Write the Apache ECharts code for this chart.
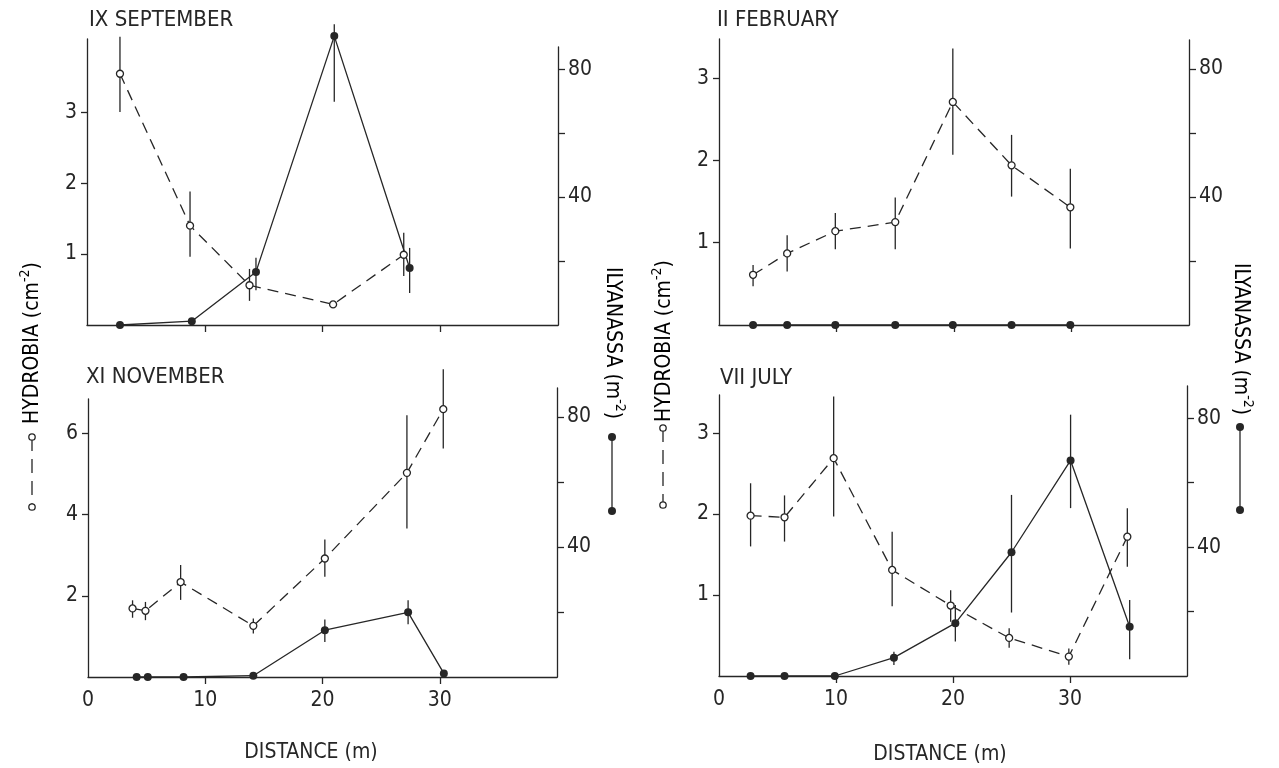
<!DOCTYPE html>
<html>
<head>
<meta charset="utf-8">
<title>Hydrobia / Ilyanassa by distance</title>
<script src="https://cdn.jsdelivr.net/npm/echarts@6/dist/echarts.min.js"></script>
<style>
  html, body { margin: 0; padding: 0; background: #fff; }
  #charts { width: 1279px; height: 768px; }
</style>
</head>
<body>
<div id="charts"></div>
<script>
// distance (m); hydrobia per cm2 on the left axis, ilyanassa per m2 on the right axis
var sepDistH   = [2.8, 8.75, 13.8, 20.9, 26.9];
var sepHydro   = [3.54, 1.40, 0.56, 0.29, 0.99];
var sepHydroLo = [3.0, 0.96, 0.34, null, 0.69];
var sepHydroHi = [4.06, 1.88, 0.79, null, 1.30];
var sepDistI   = [2.8, 8.9, 14.35, 21.0, 27.4];
var sepIly     = [0, 1.2, 16.6, 90.3, 17.8];
var sepIlyLo   = [null, null, 10.9, 69.8, 10.0];
var sepIlyHi   = [null, null, 21.0, 94, 24.1];

var febDistH   = [2.9, 5.8, 9.9, 15.0, 19.9, 24.9, 29.9];
var febHydro   = [0.61, 0.87, 1.14, 1.25, 2.71, 1.94, 1.43];
var febHydroLo = [0.47, 0.65, 0.92, 0.92, 2.07, 1.56, 0.93];
var febHydroHi = [0.73, 1.09, 1.36, 1.55, 3.36, 2.31, 1.90];
var febDistI   = [2.9, 5.8, 9.9, 15.0, 19.9, 24.9, 29.9];
var febIly     = [0, 0, 0, 0, 0, 0, 0];
var febIlyLo   = [null, null, null, null, null, null, null];
var febIlyHi   = [null, null, null, null, null, null, null];

var novDistH   = [3.8, 4.9, 7.9, 14.1, 20.2, 27.2, 30.3];
var novHydro   = [1.69, 1.63, 2.34, 1.26, 2.92, 5.03, 6.60];
var novHydroLo = [1.46, 1.40, 1.90, 1.07, 2.47, 3.66, 5.63];
var novHydroHi = [1.89, 1.85, 2.76, 1.44, 3.39, 6.45, 7.58];
var novDistI   = [4.15, 5.1, 8.15, 14.1, 20.2, 27.3, 30.35];
var novIly     = [0, 0, 0, 0.4, 14.4, 19.9, 1.1];
var novIlyLo   = [null, null, null, null, 10.8, 16.2, null];
var novIlyHi   = [null, null, null, null, 17.7, 23.6, null];

var julDistH   = [2.7, 5.6, 9.8, 14.8, 19.8, 24.8, 29.9, 34.9];
var julHydro   = [1.98, 1.96, 2.69, 1.31, 0.87, 0.47, 0.24, 1.72];
var julHydroLo = [1.60, 1.66, 1.97, 0.86, 0.67, 0.35, 0.14, 1.35];
var julHydroHi = [2.38, 2.23, 3.45, 1.78, 1.06, 0.59, 0.34, 2.07];
var julDistI   = [2.7, 5.6, 9.9, 14.95, 20.2, 25.0, 30.05, 35.1];
var julIly     = [0, 0, 0, 5.7, 16.4, 38.4, 66.9, 15.3];
var julIlyLo   = [null, null, null, 3.4, 10.7, 19.7, 52.1, 5.2];
var julIlyHi   = [null, null, null, 7.5, 22.0, 56.2, 81.1, 23.6];

var xLabels = [0, 10, 20, 30];
var xTicks = [10, 20, 30];
var ilyTicks = [20, 40, 60, 80];
var ilyLabels = [40, 80];

var font = '"DejaVu Sans Condensed", "Liberation Sans Narrow", sans-serif';
var ink = '#262626';

var panels = [
  { title: 'IX SEPTEMBER', left: 87, right: 721, bottom: 443, topL: 39, topR: 47, maxL: 4.03, maxR: 86.9,
    hLab: [1, 2, 3], xLab: false,
    dH: sepDistH, h: sepHydro, hLo: sepHydroLo, hHi: sepHydroHi, dI: sepDistI, i: sepIly, iLo: sepIlyLo, iHi: sepIlyHi,
    tx: 89, ty: 20 },
  { title: 'II FEBRUARY', left: 719, right: 90, bottom: 443, topL: 39, topR: 40, maxL: 3.475, maxR: 89,
    hLab: [1, 2, 3], xLab: false,
    dH: febDistH, h: febHydro, hLo: febHydroLo, hHi: febHydroHi, dI: febDistI, i: febIly, iLo: febIlyLo, iHi: febIlyHi,
    tx: 717, ty: 20 },
  { title: 'XI NOVEMBER', left: 88, right: 722, bottom: 91, topL: 399, topR: 388, maxL: 6.85, maxR: 88.9,
    hLab: [2, 4, 6], xLab: true,
    dH: novDistH, h: novHydro, hLo: novHydroLo, hHi: novHydroHi, dI: novDistI, i: novIly, iLo: novIlyLo, iHi: novIlyHi,
    tx: 86, ty: 377 },
  { title: 'VII JULY', left: 719, right: 92, bottom: 92, topL: 395, topR: 386, maxL: 3.47, maxR: 90,
    hLab: [1, 2, 3], xLab: true,
    dH: julDistH, h: julHydro, hLo: julHydroLo, hHi: julHydroHi, dI: julDistI, i: julIly, iLo: julIlyLo, iHi: julIlyHi,
    tx: 720, ty: 378 }
];

function pairs(xs, ys) {
  return xs.map(function (x, k) { return [x, ys[k]]; });
}
function bars(xs, lo, hi) {
  var out = [];
  xs.forEach(function (x, k) {
    if (lo[k] != null) out.push([x, lo[k], hi[k]]);
  });
  return out;
}
function errBar(params, api) {
  var a = api.coord([api.value(0), api.value(1)]);
  var b = api.coord([api.value(0), api.value(2)]);
  return {
    type: 'line',
    shape: { x1: a[0], y1: a[1], x2: b[0], y2: b[1] },
    style: { stroke: ink, lineWidth: 1.3 }
  };
}

var grid = [], xAxis = [], yAxis = [], series = [], graphic = [];
var axisLine = { show: true, onZero: false, lineStyle: { color: ink, width: 1.3 } };

panels.forEach(function (p, n) {
  var gl = 2 * n, gr = 2 * n + 1;
  grid.push({ left: p.left, right: p.right, bottom: p.bottom, top: p.topL });
  grid.push({ left: p.left, right: p.right, bottom: p.bottom, top: p.topR });

  xAxis.push({
    gridIndex: gl, type: 'value', min: 0, max: 40,
    axisLine: axisLine,
    axisTick: { show: true, inside: false, length: 7, customValues: xTicks, lineStyle: { color: ink, width: 1.3 } },
    axisLabel: { show: p.xLab, customValues: xLabels, margin: 13, color: ink, fontFamily: font, fontSize: 21 },
    splitLine: { show: false }
  });
  xAxis.push({ gridIndex: gr, type: 'value', min: 0, max: 40, show: false });

  yAxis.push({
    gridIndex: gl, type: 'value', position: 'left', min: 0, max: p.maxL,
    axisLine: axisLine,
    axisTick: { show: true, length: 6, customValues: p.hLab, lineStyle: { color: ink, width: 1.3 } },
    axisLabel: { customValues: p.hLab, margin: 10, color: ink, fontFamily: font, fontSize: 21 },
    splitLine: { show: false }
  });
  yAxis.push({
    gridIndex: gr, type: 'value', position: 'right', min: 0, max: p.maxR,
    axisLine: axisLine,
    axisTick: { show: true, length: 7, customValues: ilyTicks, lineStyle: { color: ink, width: 1.3 } },
    axisLabel: { customValues: ilyLabels, margin: 10, color: ink, fontFamily: font, fontSize: 21 },
    splitLine: { show: false }
  });

  series.push({
    type: 'custom', xAxisIndex: gr, yAxisIndex: gr, clip: false, z: 1,
    renderItem: errBar, data: bars(p.dI, p.iLo, p.iHi)
  });
  series.push({
    type: 'custom', xAxisIndex: gl, yAxisIndex: gl, clip: false, z: 1,
    renderItem: errBar, data: bars(p.dH, p.hLo, p.hHi)
  });
  series.push({
    name: 'Ilyanassa', type: 'line', xAxisIndex: gr, yAxisIndex: gr, clip: false, z: 3,
    data: pairs(p.dI, p.i), symbol: 'circle', symbolSize: 8,
    lineStyle: { color: ink, width: 1.3 },
    itemStyle: { color: ink }
  });
  series.push({
    name: 'Hydrobia', type: 'line', xAxisIndex: gl, yAxisIndex: gl, clip: false, z: 4,
    data: pairs(p.dH, p.h), symbol: 'circle', symbolSize: 7,
    lineStyle: { color: ink, width: 1.3, type: [11, 7] },
    itemStyle: { color: '#fff', borderColor: ink, borderWidth: 1.3 }
  });

  graphic.push({
    type: 'text', x: p.tx, y: p.ty,
    style: { text: p.title, fill: ink, font: '22px ' + font, textVerticalAlign: 'middle' }
  });
});

var supRich = {
  n: { fontSize: 21, fontFamily: font, color: ink, lineHeight: 30 },
  s: { fontSize: 14, fontFamily: font, color: ink, verticalAlign: 'top', lineHeight: 30, padding: [0, 0, 12, 0] }
};

// vertical axis titles with their little key symbols
[
  { x: 33, y: 343, hx: 32, h1: 437, h2: 507 },
  { x: 665, y: 341, hx: 663, h1: 428, h2: 505 }
].forEach(function (a) {
  graphic.push({
    type: 'text', x: a.x, y: a.y, rotation: Math.PI / 2,
    style: { text: '{n|HYDROBIA (cm}{s|-2}{n|)}', rich: supRich, align: 'center', verticalAlign: 'middle' }
  });
  graphic.push({
    type: 'line', shape: { x1: a.hx, y1: a.h1, x2: a.hx, y2: a.h2 },
    style: { stroke: ink, lineWidth: 1.3, lineDash: [14, 8] }
  });
  graphic.push({ type: 'circle', shape: { cx: a.hx, cy: a.h1, r: 3.2 }, style: { fill: '#fff', stroke: ink, lineWidth: 1.3 } });
  graphic.push({ type: 'circle', shape: { cx: a.hx, cy: a.h2, r: 3.2 }, style: { fill: '#fff', stroke: ink, lineWidth: 1.3 } });
});

[
  { x: 612, y: 343, kx: 612, k1: 437, k2: 511 },
  { x: 1240, y: 339, kx: 1240, k1: 427, k2: 510 }
].forEach(function (a) {
  graphic.push({
    type: 'text', x: a.x, y: a.y, rotation: -Math.PI / 2,
    style: { text: '{n|ILYANASSA (m}{s|-2}{n|)}', rich: supRich, align: 'center', verticalAlign: 'middle' }
  });
  graphic.push({
    type: 'line', shape: { x1: a.kx, y1: a.k1, x2: a.kx, y2: a.k2 },
    style: { stroke: ink, lineWidth: 1.3 }
  });
  graphic.push({ type: 'circle', shape: { cx: a.kx, cy: a.k1, r: 4 }, style: { fill: ink } });
  graphic.push({ type: 'circle', shape: { cx: a.kx, cy: a.k2, r: 4 }, style: { fill: ink } });
});

[[311, 753], [940, 755]].forEach(function (c) {
  graphic.push({
    type: 'text', x: c[0], y: c[1],
    style: { text: 'DISTANCE (m)', fill: ink, font: '21px ' + font, textAlign: 'center', textVerticalAlign: 'middle' }
  });
});

var myChart = echarts.init(document.getElementById('charts'));
myChart.setOption({
  backgroundColor: '#fff',
  animation: false,
  grid: grid,
  xAxis: xAxis,
  yAxis: yAxis,
  series: series,
  graphic: graphic
});
</script>
</body>
</html>
